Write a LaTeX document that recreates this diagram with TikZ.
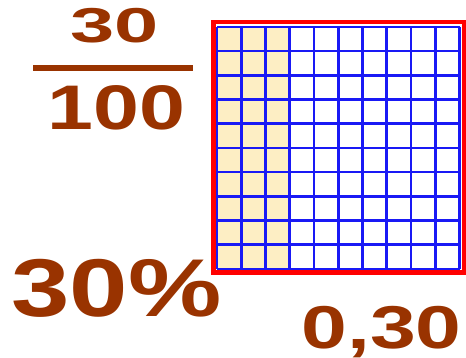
\documentclass[tikz,border=0pt]{standalone}
\usepackage{fontspec}
\setmainfont{Liberation Sans}
\definecolor{brn}{RGB}{153,51,0}
\definecolor{cellfill}{RGB}{253,238,196}
\definecolor{gridblue}{RGB}{25,25,245}
\definecolor{framered}{RGB}{255,0,0}
\begin{document}
\begin{tikzpicture}[x=1pt,y=-1pt,
  lbl/.style={inner sep=0pt,outer sep=0pt,anchor=base,text=brn,font=\bfseries},
  gridline/.style={gridblue,line width=2.6pt},
  frame/.style={framered,line width=4.5pt}]
\useasboundingbox (0,0) rectangle (466,358);
\fill[white] (0,0) rectangle (466,358);
% shaded 30 cells
\fill[cellfill] (217,27) rectangle ({217+3*24.25},269);
% grid
\foreach \i in {0,...,10} {
  \draw[gridline] ({217+\i*24.25},27) -- ({217+\i*24.25},269);
  \draw[gridline] (217,{27+\i*24.2}) -- (459.5,{27+\i*24.2});
}
% red frame
\draw[frame] (213.25,22.25) rectangle (463.75,272.75);
% fraction
\node[lbl] (num) at (115,43) {\scalebox{1.62}[1]{\fontsize{49pt}{52pt}\selectfont 30}};
\fill[brn] (33,65) rectangle (193,71);
\node[lbl] (den) at (116.5,130) {\scalebox{1.31}[1]{\fontsize{63pt}{66pt}\selectfont 100}};
% percent
\node[lbl] (pct) at (116.5,316.7) {\scalebox{1.28}[1]{\fontsize{82pt}{85pt}\selectfont 30\%}};
% decimal
\node[lbl] (dec) at (381.5,348) {\scalebox{1.36}[1]{\fontsize{60.5pt}{63pt}\selectfont 0,30}};
\end{tikzpicture}
\end{document}
